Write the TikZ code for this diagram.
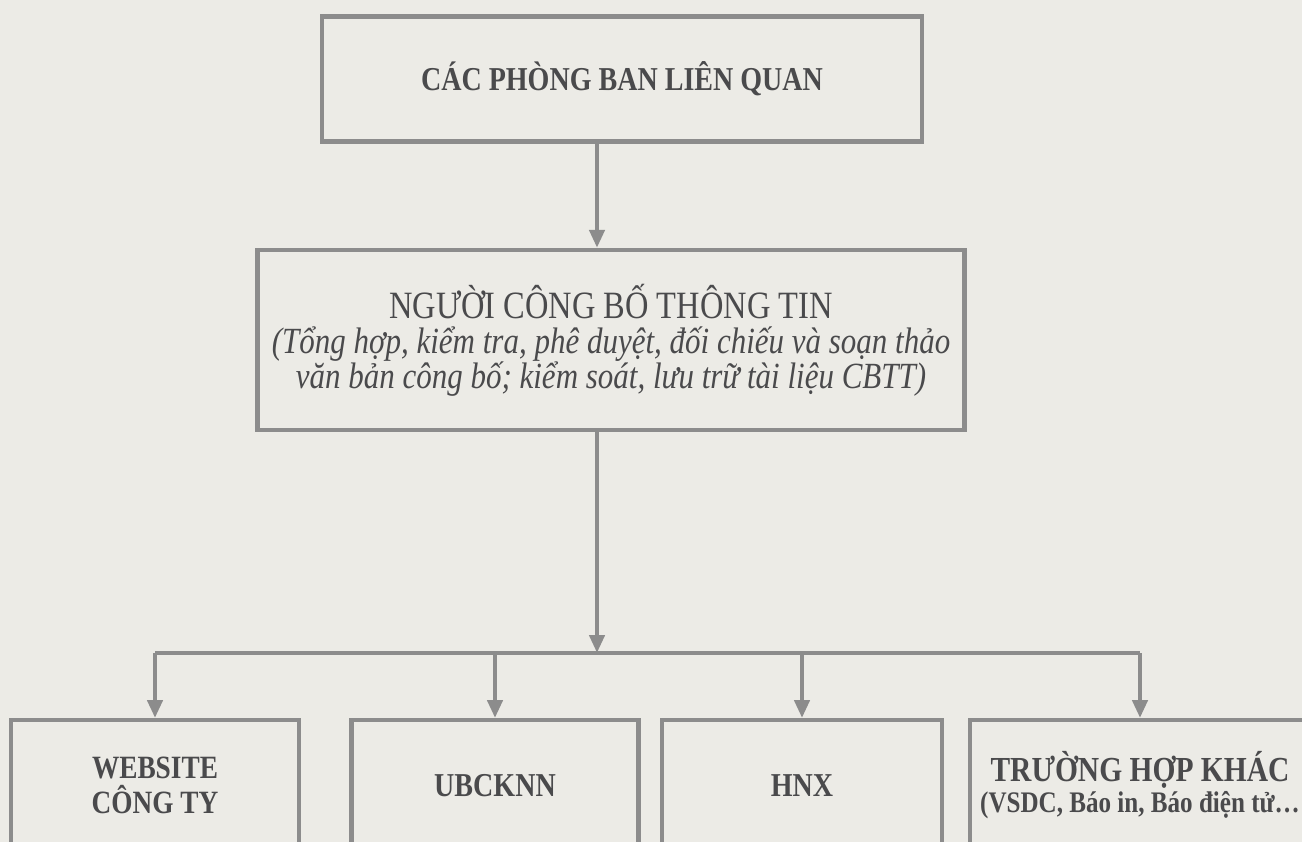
\documentclass[tikz,border=0pt]{standalone}
\usepackage{fontspec}
\setmainfont[FakeStretch=0.84]{Liberation Serif}
\usetikzlibrary{arrows.meta,positioning}
\definecolor{paper}{rgb}{0.925,0.922,0.902}
\definecolor{ink}{rgb}{0.29,0.29,0.30}
\definecolor{rule}{rgb}{0.55,0.55,0.55}

\begin{document}
\begin{tikzpicture}[x=0.02cm,y=-0.02cm,
  box/.style={draw=rule,line width=2.5pt,fill=paper,text=ink,align=center,inner sep=0pt},
  leaf/.style={box,anchor=north,minimum height=2.6cm,font=\fontsize{19}{21}\selectfont\bfseries},
  link/.style={draw=rule,line width=2.5pt,-{Triangle[length=0.36cm,width=0.3cm]}}]
\useasboundingbox (0,0) rectangle (1302,842);
\fill[paper] (0,0) rectangle (1302,842);
%\draw[red] (0,0) grid[step=100] (1302,842);
\coordinate (trunk) at (597,0);
\coordinate (bus) at (155,653);
\node[box,minimum width=12cm,minimum height=2.5cm,font=\fontsize{19}{23}\selectfont\bfseries] (lienquan) at (622,79)
  {CÁC PHÒNG BAN LIÊN QUAN};
\node[box,minimum width=14.14cm,minimum height=3.6cm,font=\fontsize{21}{20}\selectfont] (nguoi) at (611,340)
  {\fontsize{22}{20}\selectfont NGƯỜI CÔNG BỐ THÔNG TIN\\
   \itshape (Tổng hợp, kiểm tra, phê duyệt, đối chiếu và soạn thảo\\
   \itshape văn bản công bố; kiểm soát, lưu trữ tài liệu CBTT)};
\node[leaf,minimum width=5.76cm,font=\fontsize{18.5}{20}\selectfont\bfseries] (web) at (155,718)
  {WEBSITE\\CÔNG TY};
\node[leaf,minimum width=5.74cm] (ubck) at (495,718) {UBCKNN};
\node[leaf,minimum width=5.6cm] (hnx) at (802,718) {HNX};
\node[leaf,minimum width=6.8cm,font=\fontsize{20}{17.5}\selectfont\bfseries] (khac) at (1140,718)
  {TRƯỜNG HỢP KHÁC\\
   \fontsize{17}{17.5}\selectfont (VSDC, Báo in, Báo điện tử…};
\draw[link] (lienquan.south -| trunk) -- (nguoi.north -| trunk);
\draw[link] (nguoi.south -| trunk) -- (bus -| trunk);
\draw[draw=rule,line width=2.5pt] (bus) -- (bus -| khac.north);
\foreach \n in {web,ubck,hnx,khac}
  \draw[link] (bus -| \n.north) -- (\n.north);
\end{tikzpicture}
\end{document}
